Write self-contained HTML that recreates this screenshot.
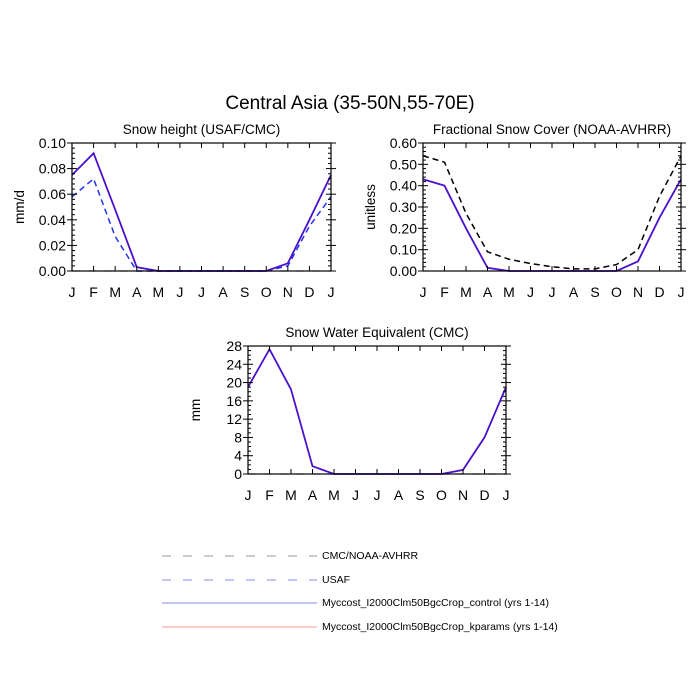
<!DOCTYPE html>
<html><head><style>body{margin:0;background:#fff}svg{display:block}text{font-family:"Liberation Sans",sans-serif}</style></head>
<body>
<svg id="s" width="700" height="700" xmlns="http://www.w3.org/2000/svg">
<text x="350" y="109" font-size="19" text-anchor="middle">Central Asia (35-50N,55-70E)</text>
<g font-size="10.5" fill="#000">
<line x1="162" y1="556" x2="317" y2="556" stroke="#999" stroke-dasharray="9,12"/>
<text x="322" y="559">CMC/NOAA-AVHRR</text>
<line x1="162" y1="580" x2="317" y2="580" stroke="#8888ee" stroke-dasharray="9,12"/>
<text x="322" y="583">USAF</text>
<line x1="162" y1="603" x2="317" y2="603" stroke="#8888ee"/>
<text x="322" y="606">Myccost_I2000Clm50BgcCrop_control (yrs 1-14)</text>
<line x1="162" y1="627" x2="317" y2="627" stroke="#ff9999"/>
<text x="322" y="630">Myccost_I2000Clm50BgcCrop_kparams (yrs 1-14)</text>
</g>
</svg>
<script>
const s=document.getElementById('s');const NS='http://www.w3.org/2000/svg';
function el(t,a,txt){const e=document.createElementNS(NS,t);for(const k in a)e.setAttribute(k,a[k]);if(txt!==undefined)e.textContent=txt;s.appendChild(e);return e;}
const M=['J','F','M','A','M','J','J','A','S','O','N','D','J'];
function panel(x0,x1,y0,y1,title,ylab,max,labs,minorPer,series){
 const W=x1-x0,H=y1-y0;const X=i=>x0+W*i/12,Y=v=>y1-H*v/max;
 el('text',{x:(x0+x1)/2,y:y0-9,'font-size':13.5,'text-anchor':'middle'},title);
 el('text',{transform:`translate(${x0-48},${(y0+y1)/2}) rotate(-90)`,'font-size':13.5,'text-anchor':'middle'},ylab);
 for(const sr of series){el('polyline',{points:sr.d.map((v,i)=>X(i)+','+Y(v)).join(' '),fill:'none',stroke:sr.c,'stroke-width':sr.w||1.5,'stroke-dasharray':sr.da||'none'});}
 el('rect',{x:x0,y:y0,width:W,height:H,fill:'none',stroke:'#000','stroke-width':1.2});
 const n=labs.length-1;
 labs.forEach((l,i)=>{const y=y1-H*i/n;
  el('line',{x1:x0-5,y1:y,x2:x0+5,y2:y,stroke:'#000'});el('line',{x1:x1-5,y1:y,x2:x1+5,y2:y,stroke:'#000'});
  el('text',{x:x0-6,y:y+5,'font-size':14,'text-anchor':'end'},l);
  if(i<n)for(let k=1;k<minorPer;k++){const yy=y-H/n*k/minorPer;el('line',{x1:x0,y1:yy,x2:x0+3,y2:yy,stroke:'#000'});el('line',{x1:x1-3,y1:yy,x2:x1,y2:yy,stroke:'#000'});}
 });
 M.forEach((m,i)=>{const x=X(i);el('line',{x1:x,y1:y1-5,x2:x,y2:y1,stroke:'#000'});el('line',{x1:x,y1:y0,x2:x,y2:y0+5,stroke:'#000'});
  el('text',{x:x,y:y1+26,'font-size':14,'text-anchor':'middle'},m);});
}
const Z=[0,0,0,0,0,0,0,0,0,0,0,0,0];
panel(72,331,143,271,'Snow height (USAF/CMC)','mm/d',0.1,['0.00','0.02','0.04','0.06','0.08','0.10'],5,[
 {d:Z,c:'#999',w:1.2,da:'8,8'},
 {d:[.058,.072,.027,0,0,0,0,0,0,0,.004,.035,.058],c:'#2233ee',da:'6,4'},
 {d:[.075,.092,.048,.003,0,0,0,0,0,0,.006,.04,.075],c:'#4a10cc',w:1.8}]);
panel(423,681,143,271,'Fractional Snow Cover (NOAA-AVHRR)','unitless',0.6,['0.00','0.10','0.20','0.30','0.40','0.50','0.60'],5,[
 {d:[.54,.51,.27,.09,.055,.035,.02,.01,.01,.03,.10,.35,.54],c:'#000',da:'6,4'},
 {d:[.43,.40,.20,.015,0,0,0,0,0,0,.045,.25,.43],c:'#4a10cc',w:1.8}]);
panel(248,506,346,474,'Snow Water Equivalent (CMC)','mm',28,['0','4','8','12','16','20','24','28'],4,[
 {d:Z,c:'#999',w:1.2,da:'8,8'},
 {d:[19,27.3,18.5,1.7,0,0,0,0,0,0,.9,8,19],c:'#4a10cc',w:1.8}]);
</script>
</body></html>
